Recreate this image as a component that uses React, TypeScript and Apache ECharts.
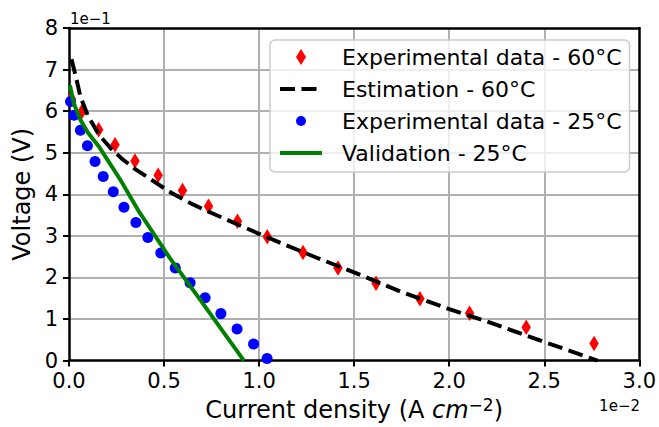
import React, { useEffect, useRef } from 'react';
import * as echarts from 'echarts';

// Units: x in 1e-2 A cm^-2, y in 1e-1 V (as displayed with offset texts)
const exp60X = [0.012, 0.068, 0.156, 0.242, 0.347, 0.469, 0.597, 0.734, 0.886, 1.043, 1.231, 1.415, 1.615, 1.846, 2.107, 2.405, 2.762];
const exp60Y = [6.3, 5.99, 5.55, 5.19, 4.8, 4.46, 4.09, 3.71, 3.35, 2.98, 2.6, 2.23, 1.86, 1.49, 1.14, 0.8, 0.41];

const est60X = [0.013, 0.035, 0.06, 0.1, 0.16, 0.22, 0.28, 0.35, 0.44, 0.54, 0.65, 0.75, 0.9, 1.0, 1.135, 1.3, 1.5, 1.75, 2.0, 2.2, 2.4, 2.6, 2.78];
const est60Y = [7.25, 6.85, 6.35, 5.88, 5.42, 5.1, 4.85, 4.6, 4.33, 4.03, 3.76, 3.55, 3.25, 3.05, 2.79, 2.48, 2.12, 1.65, 1.24, 0.94, 0.61, 0.29, 0.0];

const exp25X = [0.008, 0.027, 0.06, 0.097, 0.137, 0.18, 0.233, 0.289, 0.352, 0.415, 0.483, 0.559, 0.637, 0.716, 0.799, 0.884, 0.971, 1.042];
const exp25Y = [6.23, 5.9, 5.54, 5.17, 4.79, 4.43, 4.06, 3.69, 3.32, 2.96, 2.59, 2.23, 1.87, 1.51, 1.13, 0.76, 0.4, 0.05];

const val25X = [0.005, 0.025, 0.06, 0.1, 0.16, 0.27, 0.37, 0.53, 0.7, 0.92];
const val25Y = [6.62, 6.19, 5.79, 5.48, 5.13, 4.35, 3.57, 2.47, 1.4, 0.0];

const seriesNames = ['Experimental data - 60°C', 'Estimation - 60°C', 'Experimental data - 25°C', 'Validation - 25°C'];
const xOffsetText = '1e−2';
const yOffsetText = '1e−1';

const FONT = 'DejaVu Sans';

const zip = (xs: number[], ys: number[]) => xs.map((x, i) => [x, ys[i]]);

export default function App() {
  const ref = useRef<HTMLDivElement>(null);
  useEffect(() => {
    const chart = echarts.init(ref.current!, undefined, { renderer: 'svg' });
    const option: any = {
      animation: false,
      textStyle: { fontFamily: FONT },
      grid: { left: 69, top: 28, width: 571, height: 333 },
      xAxis: [
        {
          type: 'value', min: 0, max: 3, interval: 0.5,
          axisLine: { show: true, onZero: false, lineStyle: { color: '#000', width: 2.5 } },
          axisTick: { show: true, length: 6, lineStyle: { color: '#000', width: 2 } },
          axisLabel: { fontSize: 21, lineHeight: 18, color: '#000', margin: 11, fontFamily: FONT, formatter: (v: number) => v.toFixed(1) },
          splitLine: { show: true, showMinLine: false, showMaxLine: false, lineStyle: { color: '#b0b0b0', width: 2 } },
          name: '{n|Current density (A }{i|cm}{s|−2}{n|)}',
          nameLocation: 'middle',
          nameGap: 35,
          nameTextStyle: {
            fontSize: 24, color: '#000', fontFamily: FONT,
            rich: {
              n: { fontSize: 24, fontFamily: FONT, color: '#000', lineHeight: 28 },
              i: { fontSize: 24, fontFamily: FONT, fontStyle: 'italic', color: '#000', lineHeight: 28 },
              s: { fontSize: 17, fontFamily: FONT, color: '#000', verticalAlign: 'top', lineHeight: 17 },
            },
          },
        },
        {
          type: 'value', position: 'top', min: 0, max: 3,
          axisLine: { show: true, onZero: false, lineStyle: { color: '#000', width: 2.5 } },
          axisTick: { show: false }, axisLabel: { show: false }, splitLine: { show: false },
        },
      ],
      yAxis: [
        {
          type: 'value', min: 0, max: 8, interval: 1,
          axisLine: { show: true, onZero: false, lineStyle: { color: '#000', width: 2.5 } },
          axisTick: { show: true, length: 6, lineStyle: { color: '#000', width: 2 } },
          axisLabel: { fontSize: 21, lineHeight: 18, color: '#000', margin: 11, fontFamily: FONT },
          splitLine: { show: true, showMinLine: false, showMaxLine: false, lineStyle: { color: '#b0b0b0', width: 2 } },
          name: 'Voltage (V)',
          nameLocation: 'middle',
          nameGap: 33,
          nameTextStyle: { fontSize: 24, color: '#000', fontFamily: FONT },
        },
        {
          type: 'value', position: 'right', min: 0, max: 8,
          axisLine: { show: true, onZero: false, lineStyle: { color: '#000', width: 2.5 } },
          axisTick: { show: false }, axisLabel: { show: false }, splitLine: { show: false },
        },
      ],
      legend: {
        orient: 'vertical', left: 270, top: 40,
        padding: [6, 8, 8, 8],
        itemWidth: 42, itemHeight: 16, itemGap: 10,
        backgroundColor: 'rgba(255,255,255,0.8)',
        borderColor: '#cccccc', borderWidth: 1.5, borderRadius: 5,
        textStyle: { fontSize: 22, color: '#000', lineHeight: 22, padding: [0, 0, 0, 15], fontFamily: FONT },
        lineStyle: { width: 'inherit' },
        data: [
          { name: seriesNames[0], icon: 'path://M5,0 L10,8 L5,16 L0,8 Z', itemStyle: { opacity: 1 } },
          { name: seriesNames[1], itemStyle: { opacity: 0 } },
          { name: seriesNames[2], icon: 'path://M8,0 M8,16 M3,8 A5,5 0 1 0 13,8 A5,5 0 1 0 3,8 Z', itemStyle: { opacity: 1 } },
          { name: seriesNames[3], itemStyle: { opacity: 0 } },
        ],
      },
      graphic: [
        { type: 'text', left: 70, top: 11, style: { text: yOffsetText, fontSize: 15, fill: '#000', fontFamily: FONT } },
        { type: 'text', right: 19, top: 398, style: { text: xOffsetText, fontSize: 15, fill: '#000', fontFamily: FONT } },
      ],
      series: [
        {
          type: 'scatter', name: seriesNames[0], data: zip(exp60X, exp60Y),
          symbol: 'diamond', symbolSize: [9.5, 15.5], itemStyle: { color: '#ff0000', opacity: 1 },
        },
        {
          type: 'line', name: seriesNames[1], data: zip(est60X, est60Y),
          symbol: 'none', showSymbol: false,
          lineStyle: { color: '#000', width: 4, type: [15, 6.5] }, itemStyle: { color: '#000' },
        },
        {
          type: 'scatter', name: seriesNames[2], data: zip(exp25X, exp25Y),
          symbol: 'circle', symbolSize: 11, itemStyle: { color: '#0000ff', opacity: 1 },
        },
        {
          type: 'line', name: seriesNames[3], data: zip(val25X, val25Y),
          symbol: 'none', showSymbol: false,
          lineStyle: { color: '#008000', width: 4 }, itemStyle: { color: '#008000' },
        },
      ],
    };
    chart.setOption(option);
    return () => chart.dispose();
  }, []);
  return <div ref={ref} style={{ position: 'fixed', left: 0, top: 0, width: 659, height: 427, background: '#fff' }} />;
}
